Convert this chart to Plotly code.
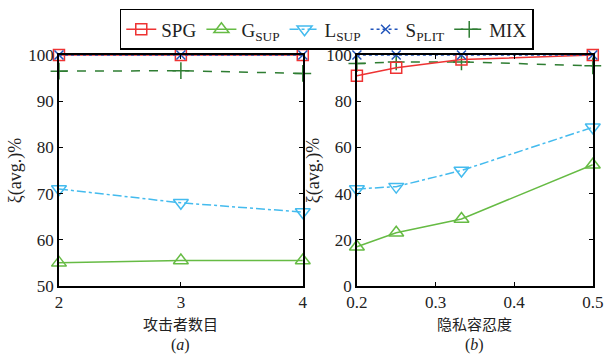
import plotly.graph_objects as go

# Panel (a): number of attackers
xa = [2, 3, 4]
a_spg = [100, 100, 100]
a_gsup = [55, 55.5, 55.5]
a_lsup = [71, 68, 66]
a_split = [100, 100, 100]
a_mix = [96.5, 96.6, 96]

# Panel (b): privacy tolerance
xb = [0.2, 0.25, 0.333, 0.5]
b_spg = [91, 94.5, 98, 100]
b_gsup = [17, 23, 29, 52.5]
b_lsup = [42, 43, 50, 68.7]
b_split = [100, 100, 100, 100]
b_mix = [96.3, 97, 97, 95.3]

names = ["SPG", "G<sub>SUP</sub>", "L<sub>SUP</sub>", "S<sub>PLIT</sub>", "MIX"]
colors = ["#ee3333", "#66bb44", "#44bbee", "#2255bb", "#2e7d32"]
dashes = ["solid", "solid", "dashdot", "dot", "dash"]
symbols = ["square-open", "triangle-up-open", "triangle-down-open", "x-thin-open", "cross-thin-open"]
sizes = [11, 13, 13, 9, 12]

fig = go.Figure()
series_a = [a_spg, a_gsup, a_lsup, a_split, a_mix]
series_b = [b_spg, b_gsup, b_lsup, b_split, b_mix]
order = [4, 2, 1, 0, 3]
for i in order:
    fig.add_trace(go.Scatter(x=xa, y=series_a[i], name=names[i], mode="lines+markers",
                             line=dict(color=colors[i], width=1.5, dash=dashes[i]),
                             marker=dict(symbol=symbols[i], size=sizes[i], color=colors[i],
                                         line=dict(width=1.5, color=colors[i])),
                             cliponaxis=False, xaxis="x", yaxis="y", showlegend=False,
                             legendrank=i))
for i in order:
    fig.add_trace(go.Scatter(x=xb, y=series_b[i], name=names[i], mode="lines+markers",
                             line=dict(color=colors[i], width=1.5, dash=dashes[i]),
                             marker=dict(symbol=symbols[i], size=sizes[i], color=colors[i],
                                         line=dict(width=1.5, color=colors[i])),
                             cliponaxis=False, xaxis="x2", yaxis="y2", showlegend=True,
                             legendrank=i))

font_fam = "Liberation Serif"
cjk = "Noto Sans CJK SC"
axis_common = dict(showline=True, linecolor="black", linewidth=1.5, mirror="ticks",
                   ticks="inside", ticklen=4, tickcolor="black", showgrid=False,
                   zeroline=False, automargin=False,
                   tickfont=dict(family=font_fam, size=17, color="#222"))

fig.update_layout(
    width=608, height=357, margin=dict(l=0, r=0, t=0, b=0),
    paper_bgcolor="white", plot_bgcolor="white",
    xaxis=dict(domain=[0.097, 0.498], range=[2, 4], tickvals=[2, 3, 4], anchor="y",
               **axis_common),
    yaxis=dict(domain=[0.199, 0.846], range=[50, 100], tickvals=[50, 60, 70, 80, 90, 100], anchor="x",
               title=dict(text="ξ(avg.)%", font=dict(family=font_fam, size=18, color="#222"), standoff=2),
               **axis_common),
    xaxis2=dict(domain=[0.587, 0.975], range=[0.2, 0.5], tickvals=[0.2, 0.3, 0.4, 0.5], anchor="y2",
                **axis_common),
    yaxis2=dict(domain=[0.199, 0.846], range=[0, 100], tickvals=[0, 20, 40, 60, 80, 100], anchor="x2",
                title=dict(text="ξ(avg.)%", font=dict(family=font_fam, size=18, color="#222"), standoff=2),
                **axis_common),
    legend=dict(orientation="h", x=0.197, y=0.975, xanchor="left", yanchor="top",
                bordercolor="black", borderwidth=1.5, bgcolor="white",
                font=dict(family=font_fam, size=19, color="#222"),
                itemwidth=30, tracegroupgap=0, traceorder="normal"),
    annotations=[
        dict(text="攻击者数目", x=0.2975, y=0.093, xref="paper", yref="paper", yanchor="middle",
             xanchor="center", showarrow=False, font=dict(family=cjk, size=15, color="#222")),
        dict(text="隐私容忍度", x=0.781, y=0.093, xref="paper", yref="paper", yanchor="middle",
             xanchor="center", showarrow=False, font=dict(family=cjk, size=15, color="#222")),
        dict(text="(<i>a</i>)", x=0.2975, y=0.004, xref="paper", yref="paper", yanchor="bottom",
             xanchor="center", showarrow=False, font=dict(family=font_fam, size=16, color="#222")),
        dict(text="(<i>b</i>)", x=0.781, y=0.004, xref="paper", yref="paper", yanchor="bottom",
             xanchor="center", showarrow=False, font=dict(family=font_fam, size=16, color="#222")),
    ],
)

fig.write_html("out.html")
